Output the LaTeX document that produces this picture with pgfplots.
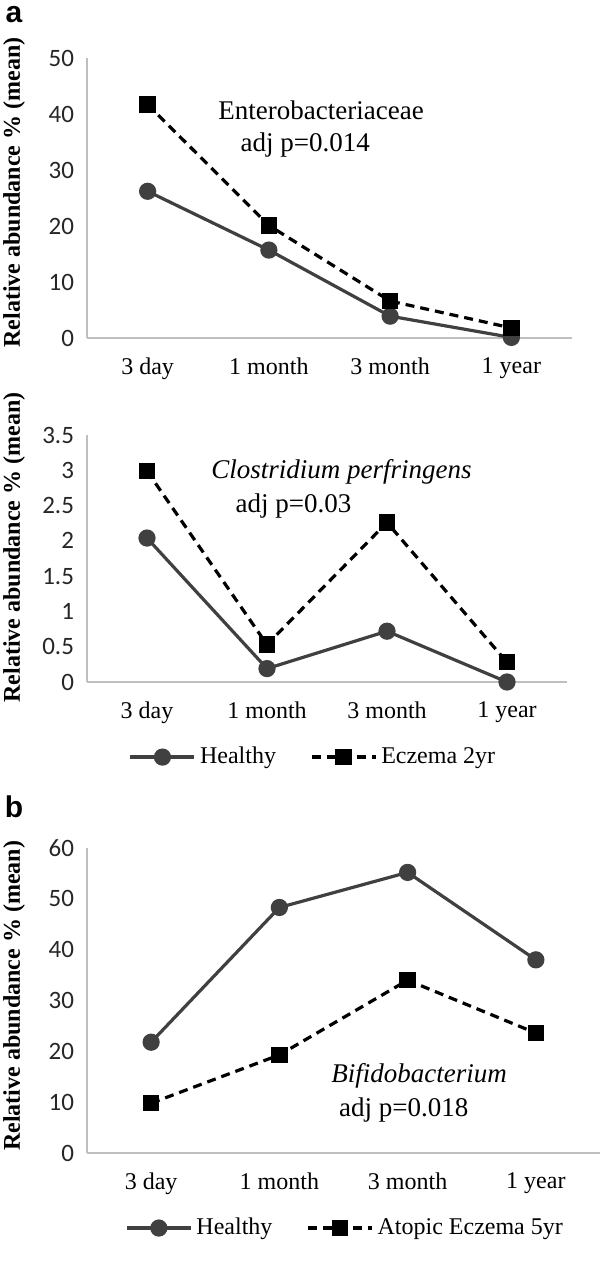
\documentclass[border=0pt]{standalone}
\usepackage{fontspec}
\setmainfont{Liberation Serif}
\newfontfamily\carlito{Carlito}
\newfontfamily\arialfont{Liberation Sans}
\usepackage{pgfplots}
\pgfplotsset{compat=1.18}

\definecolor{healthy}{HTML}{404040}
\definecolor{axgray}{HTML}{BFBFBF}

\pgfplotsset{
  panel/.style={
    scale only axis,
    xmin=0.5, xmax=4.5, ymin=0,
    xtick={1,2,3,4},
    xticklabels={3 day, 1 month, 3 month, 1 year},
    axis lines*=left,
    axis line style={draw=axgray, line width=0.8pt, -},
    major tick length=0pt,
    tick style={draw=none},
    clip=false,
    /pgf/number format/assume math mode=true,
    yticklabel style={font=\carlito\fontsize{12.5}{12.5}\selectfont, xshift=-3pt, text=black!85},
    xticklabel style={font=\fontsize{12}{12}\selectfont, yshift=-6.5pt},
    ylabel={Relative abundance \% (mean)},
    ylabel style={font=\bfseries\fontsize{12}{12}\selectfont, anchor=center},
    legend style={draw=none, fill=none, font=\fontsize{12}{12}\selectfont,
      legend columns=2, anchor=center,
      /tikz/every even column/.append style={column sep=15pt}},
    legend image code/.code={\draw[mark repeat=2,mark phase=2]
      plot coordinates {(0pt,0pt)(16pt,0pt)(32pt,0pt)};},
  },
  healthy/.style={color=healthy, line width=1.6pt, mark=*, mark size=3.5pt, mark options={solid}},
  eczema/.style={color=black, line width=1.6pt, dash pattern=on 4.5pt off 3pt,
    mark=square*, mark size=3.3pt, mark options={solid}},
}

\begin{document}
\begin{tikzpicture}
\useasboundingbox (0,0) rectangle (300pt,-630.5pt);

% panel a, top
\begin{axis}[panel,
  at={(43.5pt,-169pt)}, anchor=south west,
  width=242.5pt, height=140pt, ymax=50, ytick={0,10,...,50},
  ylabel style={at={(axis description cs:-0.1505,0.52)}},
]
  \addplot[healthy] coordinates {(1,26.2) (2,15.7) (3,3.9) (4,0.1)};
  \addplot[eczema] coordinates {(1,41.7) (2,20.1) (3,6.6) (4,1.8)};
  \node[font=\fontsize{13.5}{13.5}\selectfont] at (axis cs:2.43,40.7) {Enterobacteriaceae};
  \node[font=\fontsize{13.5}{13.5}\selectfont] at (axis cs:2.30,34.4) {adj p=0.014};
\end{axis}

% panel a, bottom
\begin{axis}[panel,
  at={(43.5pt,-341pt)}, anchor=south west,
  width=240pt, height=123.5pt, ymax=3.5, ytick={0,0.5,...,3.5},
  yticklabel style={/pgf/number format/fixed},
  ylabel style={at={(axis description cs:-0.152,0.545)}},
  legend style={at={(0.473,-0.304)}},
]
  \addplot[healthy] coordinates {(1,2.04) (2,0.19) (3,0.72) (4,0.0)};
  \addplot[eczema] coordinates {(1,2.99) (2,0.53) (3,2.26) (4,0.28)};
  \legend{Healthy, Eczema 2yr}
  \node[font=\itshape\fontsize{13.5}{13.5}\selectfont] at (axis cs:2.62,2.98) {Clostridium perfringens};
  \node[font=\fontsize{13.5}{13.5}\selectfont] at (axis cs:2.22,2.49) {adj p=0.03};
\end{axis}

% panel b
\begin{axis}[panel,
  at={(43.5pt,-576.5pt)}, anchor=south west,
  width=256.5pt, height=152.5pt, ymax=60, ytick={0,10,...,60},
  ylabel style={at={(axis description cs:-0.142,0.515)}},
  legend style={at={(0.505,-0.246)}},
]
  \addplot[healthy] coordinates {(1,21.8) (2,48.3) (3,55.2) (4,38.0)};
  \addplot[eczema] coordinates {(1,9.8) (2,19.3) (3,34.0) (4,23.6)};
  \legend{Healthy, Atopic Eczema 5yr}
  \node[font=\itshape\fontsize{13.5}{13.5}\selectfont] at (axis cs:3.09,15.1) {Bifidobacterium};
  \node[font=\fontsize{13.5}{13.5}\selectfont] at (axis cs:2.97,8.5) {adj p=0.018};
\end{axis}

\node[inner sep=0pt, font=\arialfont\bfseries\fontsize{15}{15}\selectfont] at (7pt,-7.5pt) {a};
\node[inner sep=0pt, font=\arialfont\bfseries\fontsize{15}{15}\selectfont] at (7pt,-403.5pt) {b};
\end{tikzpicture}
\end{document}
